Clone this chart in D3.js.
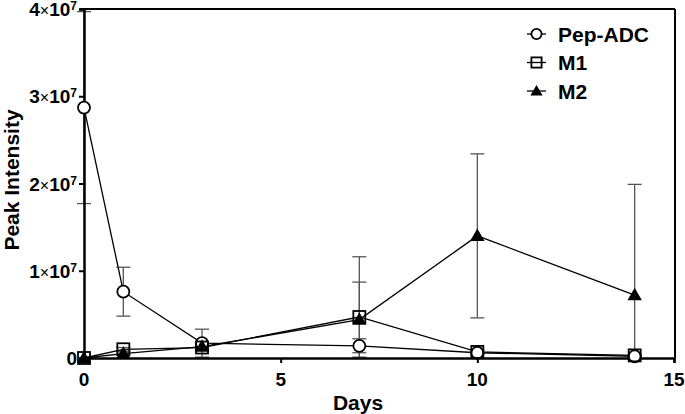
<!DOCTYPE html>
<html>
<head>
<meta charset="utf-8">
<script src="https://cdn.jsdelivr.net/npm/d3@7"></script>
<style>
body{margin:0;background:#fff;}
text{font-family:"Liberation Sans",Arial,sans-serif;font-weight:bold;}
</style>
</head>
<body>
<svg id="chart" width="685" height="414"></svg>
<script>
// datos
var dias = [0, 1, 3, 7, 10, 14];
var pepADC = [2.87e7, 0.76e7, 0.17e7, 0.14e7, 0.06e7, 0.02e7];
var pepADCerr = [1.1e7, 0.28e7, 0.16e7, 0.08e7, 0.02e7, 0.01e7];
var m1 = [0, 0.1e7, 0.12e7, 0.47e7, 0.07e7, 0.03e7];
var m1err = [0, 0.02e7, 0.03e7, 0.69e7, 0.02e7, 0.01e7];
var m2 = [0, 0.05e7, 0.13e7, 0.44e7, 1.4e7, 0.72e7];
var m2err = [0, 0.02e7, 0.04e7, 0.43e7, 0.94e7, 1.27e7];
var nombres = ["Pep-ADC", "M1", "M2"];
var xTicks = [0, 5, 10, 15];
var yTicks = [0, 1e7, 2e7, 3e7, 4e7];

var svg = d3.select("#chart");
var x = d3.scaleLinear().domain([0, 15]).range([84, 674]);
var y = d3.scaleLinear().domain([0, 4e7]).range([358, 9]);

var series = [
	{nombre: nombres[0], v: pepADC, e: pepADCerr, sym: "circle"},
	{nombre: nombres[1], v: m1, e: m1err, sym: "square"},
	{nombre: nombres[2], v: m2, e: m2err, sym: "triangle"}
];

// marco
svg.append("line").attr("x1", 80).attr("x2", 675).attr("y1", y(4e7)).attr("y2", y(4e7))
	.attr("stroke", "#000").attr("stroke-width", 2);
svg.append("line").attr("x1", 675).attr("x2", 675).attr("y1", y(4e7)).attr("y2", 358)
	.attr("stroke", "#000").attr("stroke-width", 2);

// barras de error
series.forEach(function(s){
	var g = svg.append("g").attr("stroke", "#555").attr("stroke-width", 1.3);
	s.v.forEach(function(v, i){
		if (!s.e[i]) return;
		var top = y(v + s.e[i]), bot = y(Math.max(0, v - s.e[i]));
		var cx = x(dias[i]);
		g.append("line").attr("x1", cx).attr("x2", cx).attr("y1", top).attr("y2", bot);
		g.append("line").attr("x1", cx - 7).attr("x2", cx + 7).attr("y1", top).attr("y2", top);
		if (v - s.e[i] > 0)
			g.append("line").attr("x1", cx - 7).attr("x2", cx + 7).attr("y1", bot).attr("y2", bot);
	});
});

// lineas
var linea = d3.line().x(function(d, i){ return x(dias[i]); }).y(function(d){ return y(d); });
series.forEach(function(s){
	svg.append("path").attr("d", linea(s.v)).attr("fill", "none")
		.attr("stroke", "#000").attr("stroke-width", 1.3);
});

// ejes
var yAxis = svg.append("g").attr("transform", "translate(84,0)")
	.call(d3.axisLeft(y).tickValues(yTicks).tickSize(5).tickFormat(""));
var xAxis = svg.append("g").attr("transform", "translate(0,358)")
	.call(d3.axisBottom(x).tickValues(xTicks).tickSize(5).tickFormat(""));
[yAxis, xAxis].forEach(function(a){
	a.select(".domain").attr("stroke-width", 2.5);
	a.selectAll(".tick line").attr("stroke-width", 2);
});

yTicks.forEach(function(t){
	var txt = svg.append("text").attr("x", 77).attr("y", y(t) + 7)
		.attr("text-anchor", "end").attr("font-size", 19);
	if (t == 0) { txt.text("0"); return; }
	txt.append("tspan").text(t / 1e7);
	txt.append("tspan").attr("font-weight", "normal").attr("font-size", 16).text("\u00d7");
	txt.append("tspan").text("10");
	txt.append("tspan").attr("font-size", 12).attr("dy", -6).text("7");
});
xTicks.forEach(function(t){
	svg.append("text").attr("x", x(t)).attr("y", 386).attr("text-anchor", "middle")
		.attr("font-size", 19).text(t);
});

svg.append("text").attr("x", 358).attr("y", 410).attr("text-anchor", "middle")
	.attr("font-size", 21).text("Days");
svg.append("text").attr("transform", "translate(19,180) rotate(-90)")
	.attr("text-anchor", "middle").attr("font-size", 21).text("Peak Intensity");

// simbolos
function simbolo(g, sym, cx, cy, k){
	k = k || 1;
	if (sym == "circle")
		g.append("circle").attr("cx", cx).attr("cy", cy).attr("r", 6 * k)
			.attr("fill", "#fff").attr("stroke", "#000").attr("stroke-width", 1.8);
	else if (sym == "square")
		g.append("rect").attr("x", cx - 6 * k).attr("y", cy - 6 * k).attr("width", 12 * k).attr("height", 12 * k)
			.attr("fill", "none").attr("stroke", "#000").attr("stroke-width", 1.8);
	else
		g.append("path").attr("d", d3.symbol().type(d3.symbolTriangle).size(90 * k * k)())
			.attr("transform", "translate(" + cx + "," + (cy + 1) + ")").attr("fill", "#000");
}
series.forEach(function(s){
	var g = svg.append("g");
	s.v.forEach(function(v, i){ simbolo(g, s.sym, x(dias[i]), y(v)); });
});

// leyenda
var legend = svg.append("g").attr("class", "legend");
series.forEach(function(s, i){
	var ly = 34 + i * 28.5;
	legend.append("line").attr("x1", 527).attr("x2", 546).attr("y1", ly).attr("y2", ly)
		.attr("stroke", "#000").attr("stroke-width", 1.3);
	simbolo(legend, s.sym, 536.5, ly, 0.85);
	legend.append("text").attr("x", 558).attr("y", ly + 7.5).attr("font-size", 21).text(s.nombre);
});
</script>
</body>
</html>
